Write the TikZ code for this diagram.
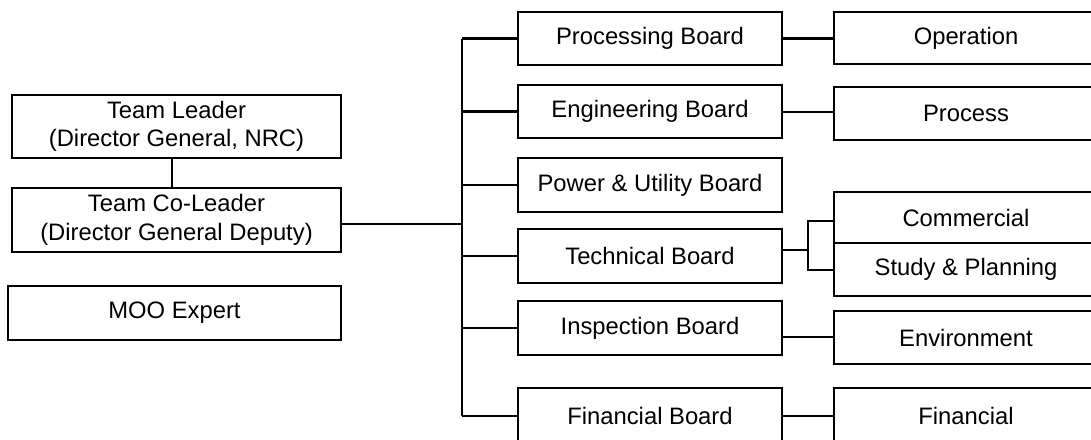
\documentclass[tikz,border=0pt]{standalone}
\usepackage{fontspec}
\setmainfont{Liberation Sans}
\begin{document}
\begin{tikzpicture}[x=1pt,y=-1pt,
  every node/.style={font=\fontsize{23.8}{28.5}\selectfont},
  unit/.style={draw, line width=2.1pt, inner sep=0pt, align=center, minimum width=#1},
  unit/.default=264pt,
  link/.style={line width=2.1pt}]
\useasboundingbox (0,0) rectangle (1091,439);
\clip (0,0) rectangle (1091,439);

% management column
\node[unit=329pt, minimum height=63pt] (lead) at (176.5,126.5) {Team Leader\\(Director General, NRC)};
\node[unit=329pt, minimum height=64pt] (colead) at (176.5,220) {Team Co-Leader\\(Director General Deputy)};
\node[unit=333pt, minimum height=54pt] (moo) at (174.5,313) {MOO Expert};

% boards
\node[unit, minimum height=53pt] (proc) at (650,38.5) {Processing Board};
\node[unit, minimum height=53pt] (eng)  at (650,111.5) {Engineering Board};
\node[unit, minimum height=54pt] (pow)  at (650,185) {Power \& Utility Board};
\node[unit, minimum height=54pt] (tech) at (650,256) {Technical Board};
\node[unit, minimum height=54pt] (insp) at (650,328) {Inspection Board};
\node[unit, minimum height=56pt] (fin)  at (650,416) {Financial Board};

% departments
\node[unit, minimum height=52pt] (oper) at (966,38) {Operation};
\node[unit, minimum height=53pt] (prcs) at (966,113.5) {Process};
\node[unit, minimum height=51pt] (comm) at (966,217.5) {Commercial};
\node[unit, minimum height=53pt] (stud) at (966,269.5) {Study \& Planning};
\node[unit, minimum height=53pt] (env)  at (966,337.5) {Environment};
\node[unit, minimum height=56pt] (fdep) at (966,416) {Financial};

% leader to co-leader
\draw[link] (lead.south -| 172,0) -- (colead.north -| 172,0);

% co-leader to the board trunk
\coordinate (trunk) at (462,224);
\coordinate (ttop) at (462,38.5);
\coordinate (tbot) at (462,416);
\draw[link] (colead.east |- trunk) -- (trunk);
\draw[link] (ttop) -- (tbot);
\foreach \b in {proc,eng,pow,tech,insp,fin}
  \draw[link] (\b.west) -- (\b.west -| trunk);

% boards to departments
\draw[link] (proc.east) -- (oper.west |- proc.east);
\draw[link] (eng.east |- 0,112) -- (prcs.west |- 0,112);
\draw[link] (insp.east |- 0,337) -- (env.west |- 0,337);
\draw[link] (fin.east) -- (fdep.west);

% technical board splits in two
\coordinate (split) at (808,250);
\draw[link] (tech.east |- split) -- (split);
\draw[link] (comm.west |- 0,221) -| (split) |- (stud.west |- 0,270);
\end{tikzpicture}
\end{document}
